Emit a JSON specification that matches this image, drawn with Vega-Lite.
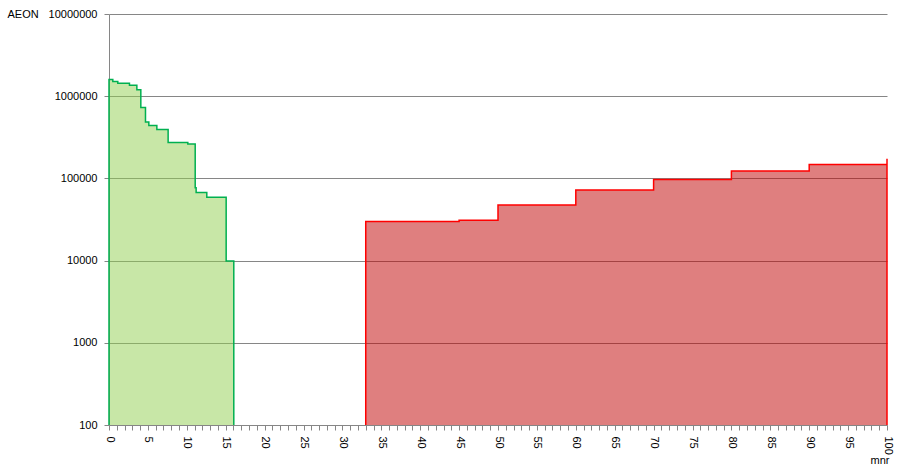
{
  "$schema": "https://vega.github.io/schema/vega-lite/v6.json",
  "width": 778,
  "height": 411,
  "autosize": {"type": "none"},
  "padding": {"left": 109, "top": 14, "right": 12, "bottom": 43},
  "background": "white",
  "config": {
    "view": {"stroke": null},
    "font": "Liberation Sans",
    "axis": {"labelFont": "Liberation Sans", "titleFont": "Liberation Sans", "labelFontSize": 11, "titleFontSize": 11, "labelColor": "#000000", "titleColor": "#000000", "titleFontWeight": "normal"}
  },
  "data": {
    "values": [
      {"s": "g", "i": 0, "x": 0, "y": 100},
      {"s": "g", "i": 1, "x": 0, "y": 1600000},
      {"s": "g", "i": 2, "x": 0.49, "y": 1510000},
      {"s": "g", "i": 3, "x": 1.13, "y": 1440000},
      {"s": "g", "i": 4, "x": 2.63, "y": 1360000},
      {"s": "g", "i": 5, "x": 3.58, "y": 1200000},
      {"s": "g", "i": 6, "x": 4.09, "y": 730000},
      {"s": "g", "i": 7, "x": 4.69, "y": 487000},
      {"s": "g", "i": 8, "x": 5.12, "y": 440000},
      {"s": "g", "i": 9, "x": 6.15, "y": 393000},
      {"s": "g", "i": 10, "x": 7.6, "y": 273000},
      {"s": "g", "i": 11, "x": 10.13, "y": 263000},
      {"s": "g", "i": 12, "x": 11.08, "y": 77000},
      {"s": "g", "i": 13, "x": 11.2, "y": 67500},
      {"s": "g", "i": 14, "x": 12.57, "y": 59000},
      {"s": "g", "i": 15, "x": 15.06, "y": 9900},
      {"s": "g", "i": 16, "x": 16.04, "y": 9900},
      {"s": "g", "i": 17, "x": 16.04, "y": 100},
      {"s": "r", "i": 0, "x": 33, "y": 100},
      {"s": "r", "i": 1, "x": 33, "y": 29800},
      {"s": "r", "i": 2, "x": 45, "y": 31000},
      {"s": "r", "i": 3, "x": 50, "y": 47600},
      {"s": "r", "i": 4, "x": 60, "y": 72500},
      {"s": "r", "i": 5, "x": 70, "y": 96700},
      {"s": "r", "i": 6, "x": 80, "y": 123000},
      {"s": "r", "i": 7, "x": 90, "y": 148000},
      {"s": "r", "i": 8, "x": 100, "y": 173000},
      {"s": "r", "i": 9, "x": 100, "y": 100}
    ]
  },
  "encoding": {
    "x": {
      "field": "x", "type": "quantitative",
      "scale": {"domain": [0, 100], "nice": false, "zero": false},
      "axis": {
        "title": "mnr", "titleX": 780, "titleY": 35, "titleAlign": "right", "titleBaseline": "middle", "titleAnchor": null,
        "values": [0,1,2,3,4,5,6,7,8,9,10,11,12,13,14,15,16,17,18,19,20,21,22,23,24,25,26,27,28,29,30,31,32,33,34,35,36,37,38,39,40,41,42,43,44,45,46,47,48,49,50,51,52,53,54,55,56,57,58,59,60,61,62,63,64,65,66,67,68,69,70,71,72,73,74,75,76,77,78,79,80,81,82,83,84,85,86,87,88,89,90,91,92,93,94,95,96,97,98,99,100],
        "labelExpr": "datum.value % 5 === 0 ? datum.label : ''",
        "labelAngle": 90, "labelAlign": "left", "labelBaseline": "middle",
        "labelFlush": false, "labelOverlap": false, "labelPadding": 6,
        "grid": false, "tickSize": 5, "tickColor": "#868686", "domainColor": "#868686"
      }
    },
    "y": {
      "field": "y", "type": "quantitative", "stack": null,
      "scale": {"type": "log", "domain": [100, 10000000], "nice": false},
      "axis": {
        "title": "AEON", "titleAngle": 0, "titleX": -102, "titleY": 0, "titleAlign": "left", "titleBaseline": "middle", "titleAnchor": null,
        "values": [100, 1000, 10000, 100000, 1000000, 10000000],
        "format": "d", "labelPadding": 7, "labelFlush": false,
        "grid": true, "gridColor": "#868686", "tickSize": 5, "tickColor": "#868686", "domainColor": "#868686"
      }
    }
  },
  "layer": [
    {
      "transform": [{"filter": "datum.s === 'g' && datum.y > 100"}],
      "mark": {"type": "area", "interpolate": "step-after", "color": "#92D050", "fillOpacity": 0.5}
    },
    {
      "transform": [{"filter": "datum.s === 'r' && datum.y > 100"}],
      "mark": {"type": "area", "interpolate": "step-after", "color": "#C00000", "fillOpacity": 0.5}
    },
    {
      "transform": [{"filter": "datum.s === 'g'"}],
      "mark": {"type": "line", "interpolate": "step-after", "color": "#00B050", "strokeWidth": 1.5},
      "encoding": {"order": {"field": "i", "type": "quantitative"}}
    },
    {
      "transform": [{"filter": "datum.s === 'r'"}],
      "mark": {"type": "line", "interpolate": "step-after", "color": "#FF0000", "strokeWidth": 1.5},
      "encoding": {"order": {"field": "i", "type": "quantitative"}}
    }
  ]
}
